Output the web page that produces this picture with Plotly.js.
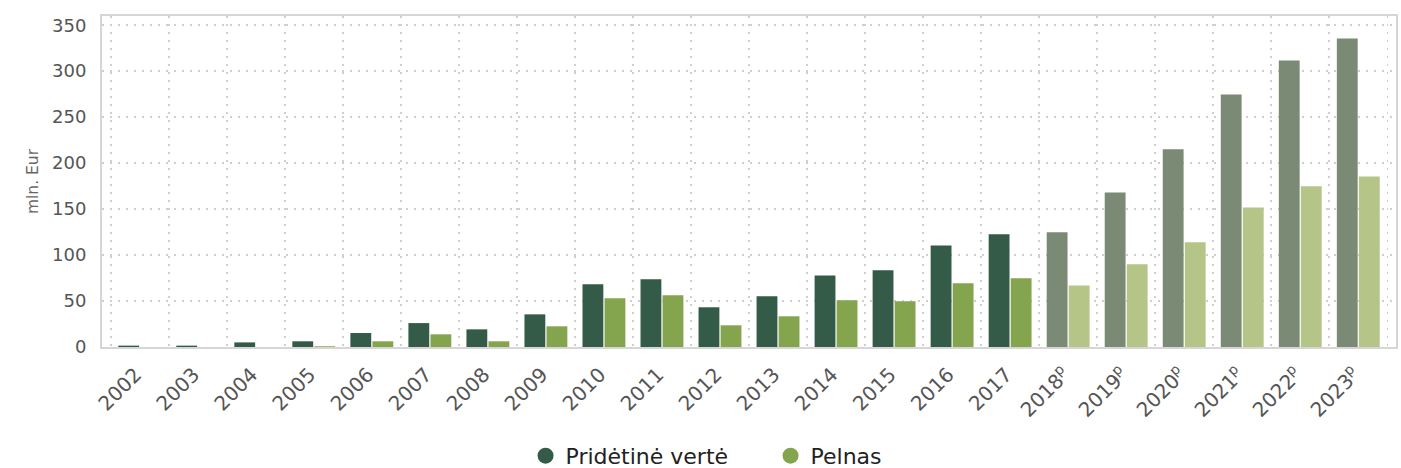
<!DOCTYPE html>
<html>
<head>
<meta charset="utf-8">
<script src="https://cdn.plot.ly/plotly-3.0.1.min.js"></script>
<style>html,body{margin:0;padding:0;background:#fff;}#chart{width:1401px;height:468px;}</style>
</head>
<body>
<div id="chart"></div>
<script>
const years = ["2002","2003","2004","2005","2006","2007","2008","2009","2010","2011","2012","2013","2014","2015","2016","2017","2018","2019","2020","2021","2022","2023"];
const forecast = [false,false,false,false,false,false,false,false,false,false,false,false,false,false,false,false,true,true,true,true,true,true];
const tickLabels = years.map((y,i)=> forecast[i] ? y + "<sup>p</sup>" : y);
const addedValue = [1.5,1.5,5,6.2,15.2,26,19.2,35.5,68.2,73.6,43.2,55.1,77.9,83.4,110.5,122.5,124.7,168,215,274.7,311.6,335.5];
const profit = [0,0,0,0.8,6.2,13.8,6.2,22.5,52.9,56.2,23.6,33.4,50.8,49.7,69.2,74.7,67,90,113.8,151.8,174.7,185.5];
const seriesNames = ["Pridėtinė vertė","Pelnas"];
const colDark = "#345a48", colLight = "#84a44e", colDarkP = "#7b8a75", colLightP = "#b5c588";

const font = "DejaVu Sans, Liberation Sans, Arial, sans-serif";
const traces = [
  {type:"bar", x:years, y:addedValue, name:seriesNames[0], showlegend:false,
   marker:{color:forecast.map(f=>f?colDarkP:colDark)}, hoverinfo:"x+y"},
  {type:"bar", x:years, y:profit, name:seriesNames[1], showlegend:false,
   marker:{color:forecast.map(f=>f?colLightP:colLight)}, hoverinfo:"x+y"},
  {type:"scatter", mode:"markers", x:[null], y:[null], name:seriesNames[0],
   marker:{symbol:"circle", size:19, color:colDark}},
  {type:"scatter", mode:"markers", x:[null], y:[null], name:seriesNames[1],
   marker:{symbol:"circle", size:19, color:colLight}}
];
const gridDash = "2px,6px";
const layout = {
  width:1401, height:468,
  margin:{l:102, r:5, t:16, b:121},
  paper_bgcolor:"#fff", plot_bgcolor:"#fff",
  barmode:"group", bargap:0.24, bargroupgap:0.055,
  font:{family:font, color:"#555"},
  xaxis:{type:"category", tickson:"boundaries", range:[-0.65,21.65],
    tickvals:years, ticktext:tickLabels,
    tickangle:-45, tickfont:{size:20, color:"#555"},
    showgrid:true, gridcolor:"#cfcfcf", griddash:gridDash, gridwidth:1.6,
    ticks:"", ticklabelstandoff:6, ticklabelshift:-4,
    showline:true, mirror:true, linecolor:"#d6d6d6", linewidth:2, zeroline:false},
  yaxis:{range:[0,360], tickvals:[0,50,100,150,200,250,300,350],
    tickfont:{size:18, color:"#555"},
    ticks:"outside", ticklen:10, tickcolor:"rgba(0,0,0,0)",
    showgrid:true, gridcolor:"#cfcfcf", griddash:gridDash, gridwidth:1.6,
    showline:true, mirror:true, linecolor:"#d6d6d6", linewidth:2, zeroline:false,
    title:{text:"mln. Eur", font:{size:15.5, color:"#666"}, standoff:10}},
  legend:{orientation:"h", xref:"container", yref:"container", x:0.55, xanchor:"center", y:0.026, yanchor:"middle",
    font:{size:22, color:"#222"}, itemwidth:30, entrywidth:200},
  showlegend:true
};
Plotly.newPlot("chart", traces, layout, {displayModeBar:false, staticPlot:true});
</script>
</body>
</html>
